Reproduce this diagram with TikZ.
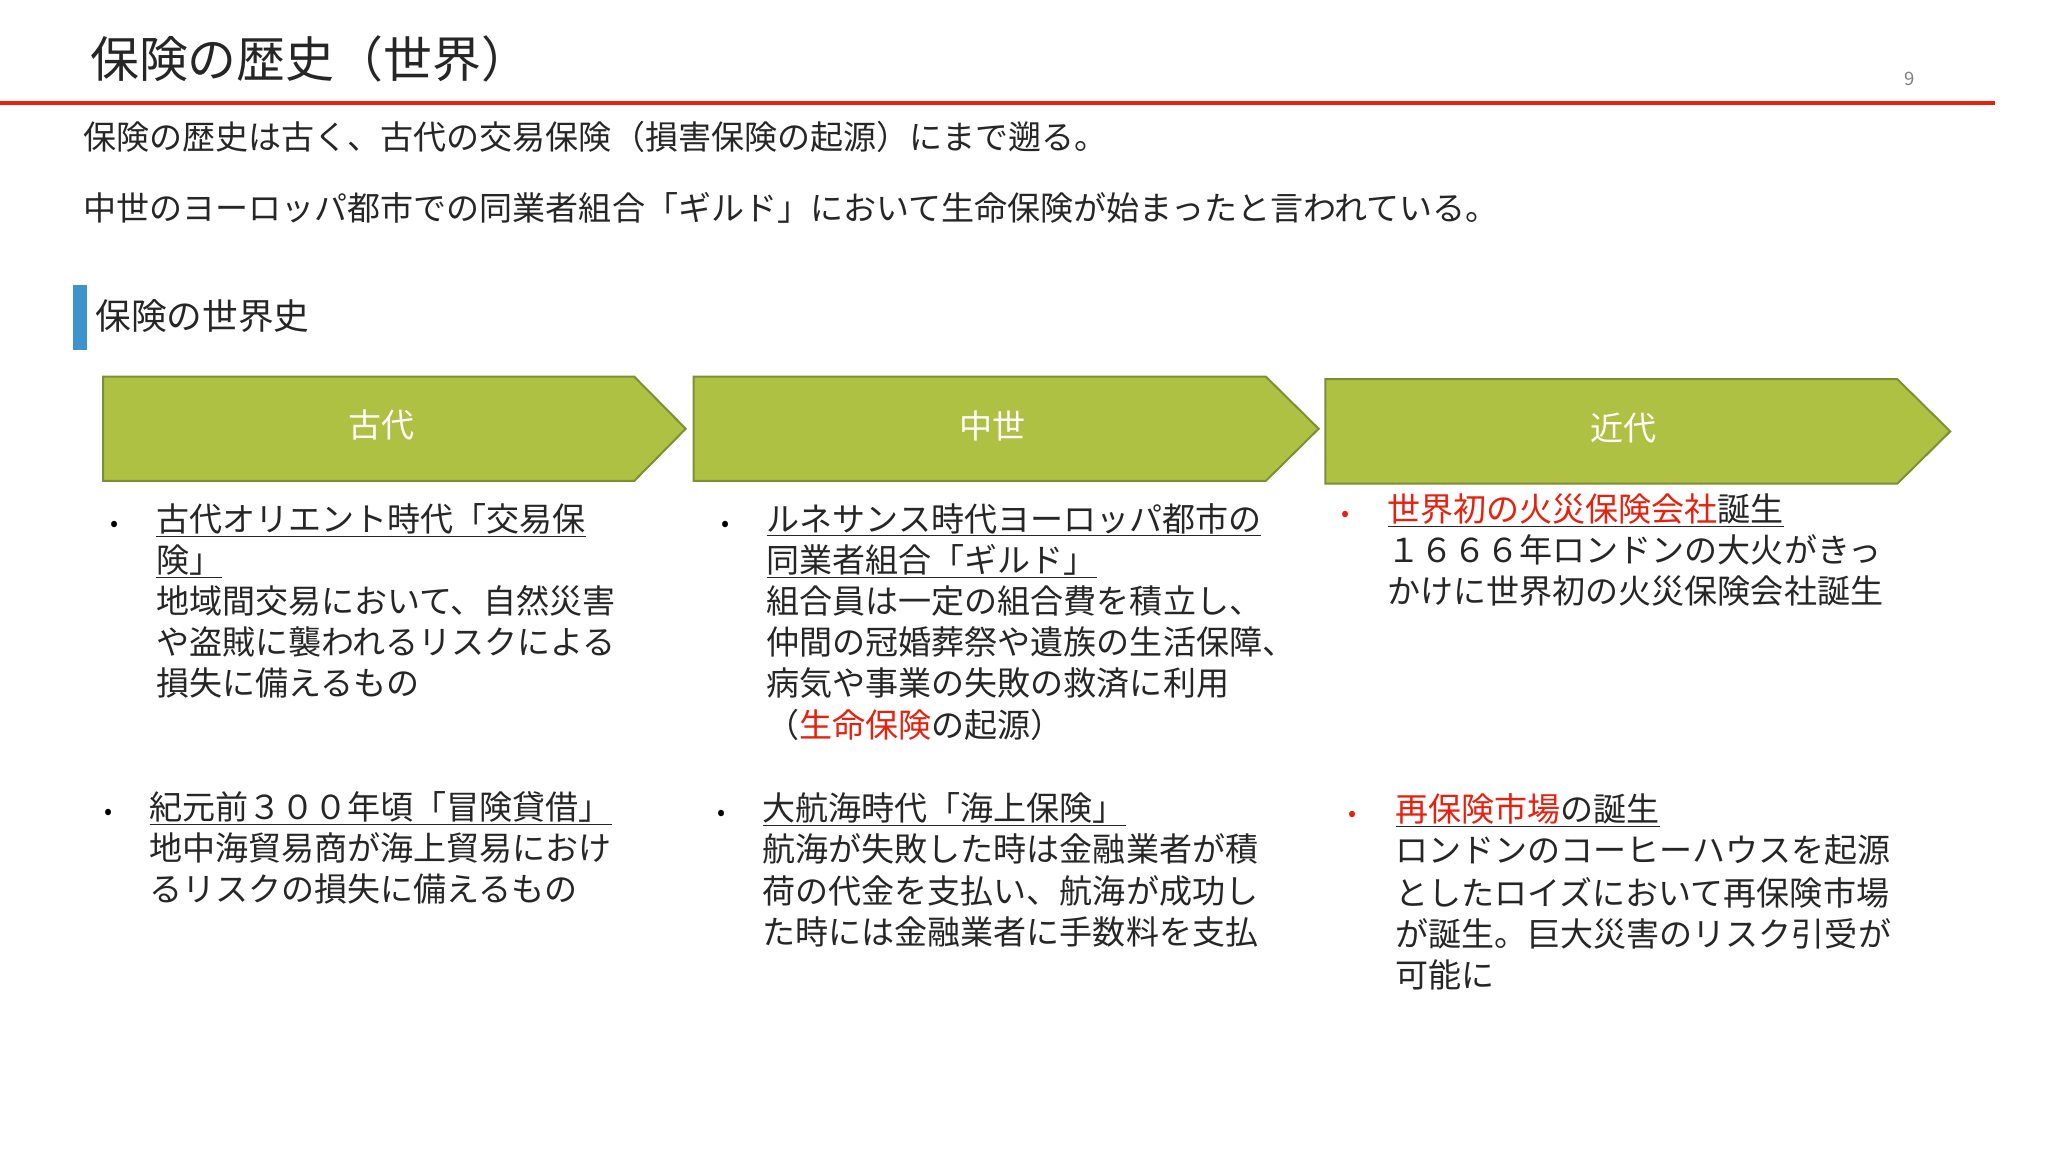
\documentclass[tikz,border=0pt]{standalone}
\usepackage{fontspec}
\setmainfont{Noto Sans CJK JP}
\begin{document}
\begin{tikzpicture}[x=1pt,y=-1pt,
  txt/.style={anchor=base west,inner sep=0pt,font=\fontsize{25}{30}\selectfont,text=black!85},
  arr/.style={fill=arrgreen,draw=arrdark,line width=1.5pt},
  lbl/.style={text=white,font=\fontsize{25}{30}\selectfont},
  bul/.style={anchor=base,inner sep=0pt,font=\fontsize{18}{20}\selectfont}]
\definecolor{arrgreen}{HTML}{AEC143}
\definecolor{arrdark}{HTML}{7D8F35}
\definecolor{redline}{HTML}{E8200E}
\definecolor{rtxt}{HTML}{E8200E}
\definecolor{bluebar}{HTML}{3E93CC}
\useasboundingbox (0,0) rectangle (1550,872);
\fill[white] (0,0) rectangle (1550,872);
\node[txt,font=\fontsize{37}{40}\selectfont] (title) at (68,59) {保険の歴史（世界）};
\node[txt,font=\fontsize{14}{16}\selectfont,text=gray] (pg) at (1441,65) {9};
\draw[redline,line width=3pt] (0,78) -- (1510,78);
\node[txt] (l1) at (63,113) {保険の歴史は古く、古代の交易保険（損害保険の起源）にまで遡る。};
\node[txt] (l2) at (63,167) {中世のヨーロッパ都市での同業者組合「ギルド」において生命保険が始まったと言われている。};
\fill[bluebar] (55,216) rectangle (66,265);
\node[txt,font=\fontsize{27}{30}\selectfont] (sub) at (72,249) {保険の世界史};
\draw[arr] (78,285) -- (480,285) -- (519,324.5) -- (480,364) -- (78,364) -- cycle;
\node[lbl] (a1) at (289,322) {古代};
\draw[arr] (525,285) -- (958,285) -- (998,324.5) -- (958,364) -- (525,364) -- cycle;
\node[lbl] (a2) at (751,322) {中世};
\draw[arr] (1003,287) -- (1436,287) -- (1476,326.5) -- (1436,366) -- (1003,366) -- cycle;
\node[lbl] (a3) at (1229,324) {近代};
% column 1
\node[bul] (b1) at (87,402) {•};
\node[txt] (c1a) at (118,402) {\underline{古代オリエント時代「交易保}};
\node[txt] (c1b) at (118,433) {\underline{険」}};
\node[txt] (c1c) at (118,464) {地域間交易において、自然災害};
\node[txt] (c1d) at (118,495) {や盗賊に襲われるリスクによる};
\node[txt] (c1e) at (118,526) {損失に備えるもの};
\node[bul] (b2) at (82,620) {•};
\node[txt] (c1f) at (113,620) {\underline{紀元前３００年頃「冒険貸借」}};
\node[txt] (c1g) at (113,651) {地中海貿易商が海上貿易におけ};
\node[txt] (c1h) at (113,682) {るリスクの損失に備えるもの};
% column 2
\node[bul] (b3) at (549,402) {•};
\node[txt] (c2a) at (580,402) {\underline{ルネサンス時代ヨーロッパ都市の}};
\node[txt] (c2b) at (580,433) {\underline{同業者組合「ギルド」}};
\node[txt] (c2c) at (580,464) {組合員は一定の組合費を積立し、};
\node[txt] (c2d) at (580,495) {仲間の冠婚葬祭や遺族の生活保障、};
\node[txt] (c2e) at (580,526) {病気や事業の失敗の救済に利用};
\node[txt] (c2f) at (580,558) {（\textcolor{rtxt}{生命保険}の起源）};
\node[bul] (b4) at (546,621) {•};
\node[txt] (c2g) at (577,621) {\underline{大航海時代「海上保険」}};
\node[txt] (c2h) at (577,652) {航海が失敗した時は金融業者が積};
\node[txt] (c2i) at (577,684) {荷の代金を支払い、航海が成功し};
\node[txt] (c2j) at (577,715) {た時には金融業者に手数料を支払};
% column 3
\node[bul,text=rtxt] (b5) at (1018,395) {•};
\node[txt] (c3a) at (1050,395) {\underline{\textcolor{rtxt}{世界初の火災保険会社}誕生}};
\node[txt] (c3b) at (1050,426) {１６６６年ロンドンの大火がきっ};
\node[txt] (c3c) at (1050,457) {かけに世界初の火災保険会社誕生};
\node[bul,text=rtxt] (b6) at (1024,622) {•};
\node[txt] (c3d) at (1056,622) {\underline{\textcolor{rtxt}{再保険市場}の誕生}};
\node[txt] (c3e) at (1056,653) {ロンドンのコーヒーハウスを起源};
\node[txt] (c3f) at (1056,685) {としたロイズにおいて再保険市場};
\node[txt] (c3g) at (1056,716) {が誕生。巨大災害のリスク引受が};
\node[txt] (c3h) at (1056,747) {可能に};
\end{tikzpicture}
\end{document}
